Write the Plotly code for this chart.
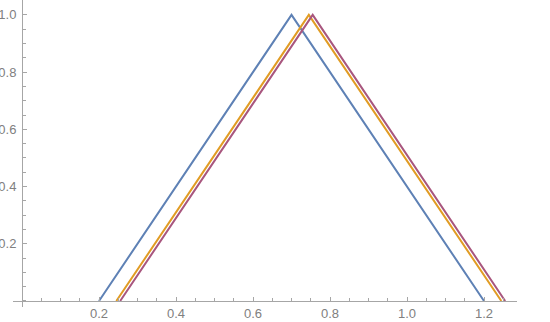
import plotly.graph_objects as go

# Data
peak_y = [0, 1, 0]
blue_x = [0.2, 0.7, 1.2]
orange_x = [0.245, 0.745, 1.245]
purple_x = [0.255, 0.755, 1.255]

x_ticks = [0.2, 0.4, 0.6, 0.8, 1.0, 1.2]
x_labels = ["0.2", "0.4", "0.6", "0.8", "1.0", "1.2"]
y_ticks = [0.2, 0.4, 0.6, 0.8, 1.0]
y_labels = ["0.2", "0.4", "0.6", "0.8", "1.0"]

series = [
    (blue_x, "#5E81B5"),
    (orange_x, "#E19C24"),
    (purple_x, "#A8567E"),
]

W, H = 550, 322
ml, mr, mt, mb = 13, 33, 0, 15
xr = [-0.0234, 1.2857]
yr = [-0.021, 1.052]

fig = go.Figure()
for xs, c in series:
    fig.add_trace(go.Scatter(x=xs, y=peak_y, mode="lines",
                             line=dict(color=c, width=2), showlegend=False,
                             hoverinfo="skip"))

# paper positions of the zero lines
x0_pos = (0 - xr[0]) / (xr[1] - xr[0])
y0_pos = (0 - yr[0]) / (yr[1] - yr[0])

axis_common = dict(
    showgrid=False, zeroline=False, showline=True, linecolor="#a6a6a6",
    linewidth=1, ticks="inside", ticklen=4, tickcolor="#a6a6a6",
    automargin=False,
    tickfont=dict(family="Liberation Sans, Arial, sans-serif", size=13, color="#808080"),
    minor=dict(ticks="inside", ticklen=2.5, tickcolor="#a6a6a6", dtick=0.05, tick0=0),
)

fig.update_layout(
    width=W, height=H,
    margin=dict(l=ml, r=mr, t=mt, b=mb),
    plot_bgcolor="white", paper_bgcolor="white",
    xaxis=dict(range=xr, tickvals=x_ticks, ticktext=x_labels,
               anchor="free", position=y0_pos, **axis_common),
    yaxis=dict(range=yr, tickvals=y_ticks, ticktext=y_labels,
               anchor="free", position=x0_pos, ticklabelstandoff=3,
               **axis_common),
)

fig.write_html("out.html")
